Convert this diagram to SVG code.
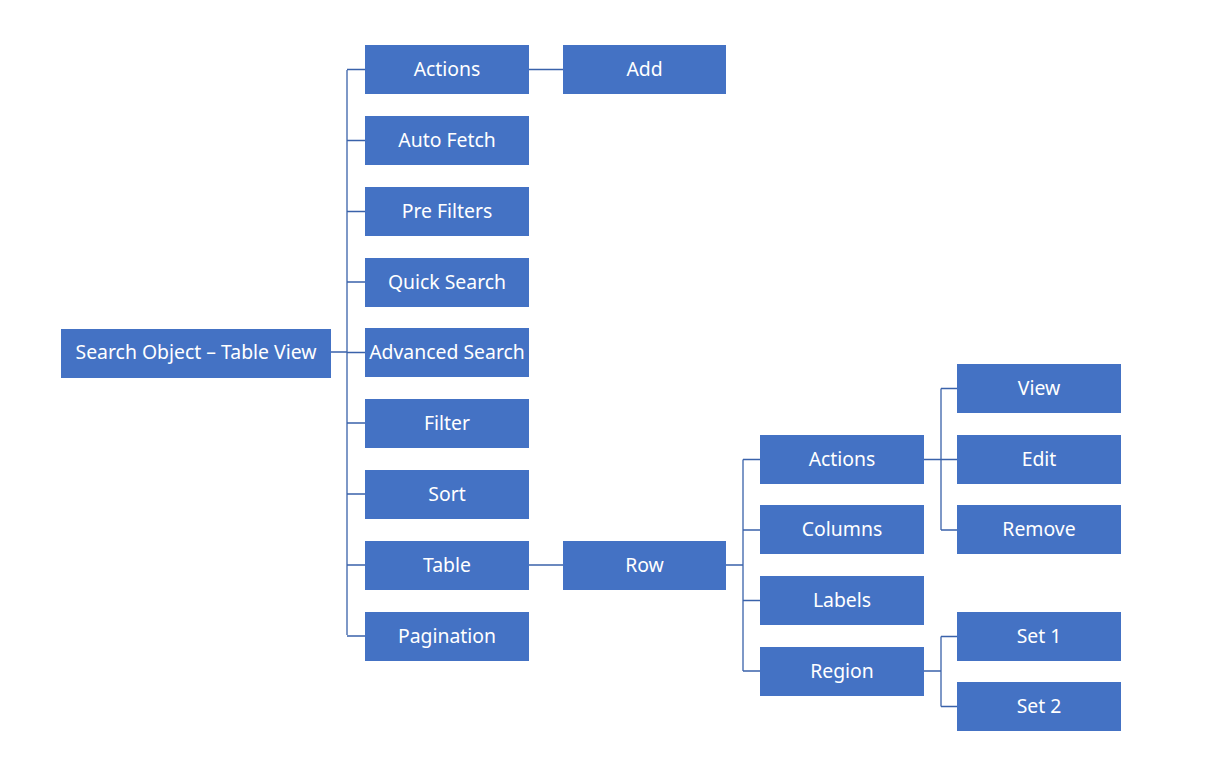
<svg xmlns="http://www.w3.org/2000/svg" width="1209" height="763" viewBox="0 0 1209 763">
<style>
.n rect{fill:#4472C4}
.n text{fill:#fff;font-family:"Noto Sans","Open Sans","DejaVu Sans",sans-serif;font-size:19.4px;text-anchor:middle;dominant-baseline:central}
.c path{fill:none;stroke:#3A62AA;stroke-width:1.3}
</style>
<rect width="1209" height="763" fill="#fff"/>
<g class="c" id="connectors">
<path d="M331 352H347M347 70V635M347 69.5H365M347 140.5H365M347 211.5H365M347 282H365M347 352.5H365M347 423H365M347 494H365M347 565H365M347 636H365"/>
<path d="M529 69.5H563"/>
<path d="M529 565H563"/>
<path d="M726 565H743M743 459.5V671M743 459.5H760M743 530H760M743 600.5H760M743 671H760"/>
<path d="M924 459.5H941M941 388.5V530M941 388.5H957M941 459.5H957M941 530H957"/>
<path d="M924 671H941M941 636.5V706.5M941 636.5H957M941 706.5H957"/>
</g>
<g class="n" id="root"><rect x="61" y="329" width="270" height="49"/><text x="196" y="351">Search Object – Table View</text></g>
<g class="n" id="actions"><rect x="365" y="45" width="164" height="49"/><text x="447" y="68">Actions</text></g>
<g class="n" id="add"><rect x="563" y="45" width="163" height="49"/><text x="644.5" y="68">Add</text></g>
<g class="n" id="autofetch"><rect x="365" y="116" width="164" height="49"/><text x="447" y="139">Auto Fetch</text></g>
<g class="n" id="prefilters"><rect x="365" y="187" width="164" height="49"/><text x="447" y="210">Pre Filters</text></g>
<g class="n" id="quicksearch"><rect x="365" y="258" width="164" height="49"/><text x="447" y="281">Quick Search</text></g>
<g class="n" id="advancedsearch"><rect x="365" y="328" width="164" height="49"/><text x="447" y="351">Advanced Search</text></g>
<g class="n" id="filter"><rect x="365" y="399" width="164" height="49"/><text x="447" y="422">Filter</text></g>
<g class="n" id="sort"><rect x="365" y="470" width="164" height="49"/><text x="447" y="493">Sort</text></g>
<g class="n" id="table"><rect x="365" y="541" width="164" height="49"/><text x="447" y="564">Table</text></g>
<g class="n" id="pagination"><rect x="365" y="612" width="164" height="49"/><text x="447" y="635">Pagination</text></g>
<g class="n" id="row"><rect x="563" y="541" width="163" height="49"/><text x="644.5" y="564">Row</text></g>
<g class="n" id="rowactions"><rect x="760" y="435" width="164" height="49"/><text x="842" y="458">Actions</text></g>
<g class="n" id="columns"><rect x="760" y="505" width="164" height="49"/><text x="842" y="528">Columns</text></g>
<g class="n" id="labels"><rect x="760" y="576" width="164" height="49"/><text x="842" y="599">Labels</text></g>
<g class="n" id="region"><rect x="760" y="647" width="164" height="49"/><text x="842" y="670">Region</text></g>
<g class="n" id="view"><rect x="957" y="364" width="164" height="49"/><text x="1039" y="387">View</text></g>
<g class="n" id="edit"><rect x="957" y="435" width="164" height="49"/><text x="1039" y="458">Edit</text></g>
<g class="n" id="remove"><rect x="957" y="505" width="164" height="49"/><text x="1039" y="528">Remove</text></g>
<g class="n" id="set1"><rect x="957" y="612" width="164" height="49"/><text x="1039" y="635">Set 1</text></g>
<g class="n" id="set2"><rect x="957" y="682" width="164" height="49"/><text x="1039" y="705">Set 2</text></g>
</svg>
